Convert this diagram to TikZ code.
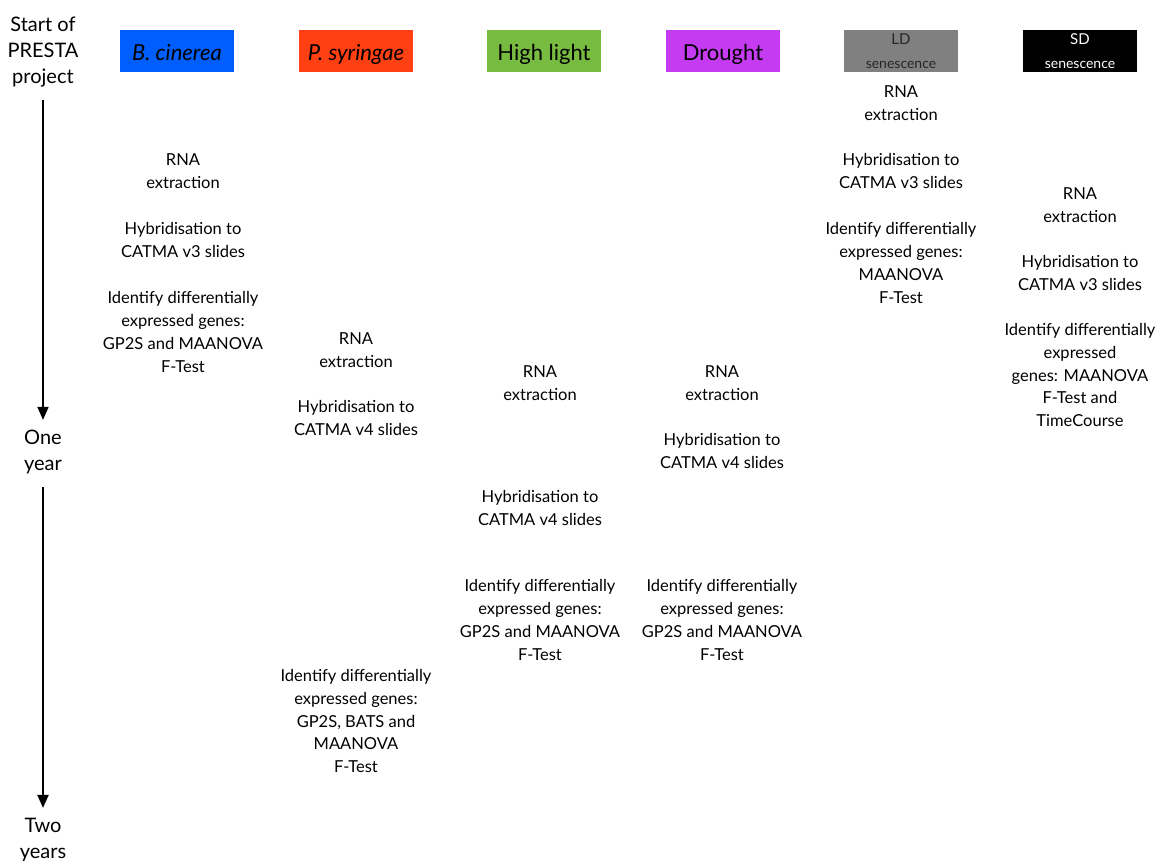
\documentclass[tikz,border=0pt]{standalone}
\usepackage{fontspec}
\setmainfont{Lato}
\usetikzlibrary{arrows.meta}

\definecolor{cinereablue}{RGB}{0,94,255}
\definecolor{syringaered}{RGB}{255,64,19}
\definecolor{lightgreen}{RGB}{119,187,65}
\definecolor{droughtpurple}{RGB}{197,59,242}
\definecolor{ldgrey}{RGB}{128,128,128}

\begin{document}
\begin{tikzpicture}[x=1pt,y=-1pt,
  cond/.style={minimum width=114pt, minimum height=42pt, inner sep=0pt, text height=20pt, text depth=1pt, font=\fontsize{22}{24}\selectfont},
  condtwo/.style={minimum width=114pt, minimum height=42pt, inner sep=0pt, align=center, font=\fontsize{15}{24}\selectfont},
  stage/.style={align=center, inner sep=0pt, font=\fontsize{16.5}{22.7}\selectfont},
  time/.style={align=center, inner sep=0pt, font=\fontsize{20}{26}\selectfont},
  timeline/.style={line width=2pt, shorten <=13pt, shorten >=10pt, -{Triangle[length=13pt,width=11pt]}}]
\useasboundingbox (0,0) rectangle (1159,861);

% time axis
\node[time] (start) at (43,52) {Start of\\PRESTA\\project};
\node[time] (oneyear) at (43,452) {One\\year};
\node[time] (twoyears) at (43,840) {Two\\years};
\draw[timeline] (start) -- (oneyear);
\draw[timeline] (oneyear) -- (twoyears);

% conditions
\node[cond, fill=cinereablue] (bcin) at (177,51) {\textit{B. cinerea}};
\node[cond, fill=syringaered] (psyr) at (356,51) {\textit{P. syringae}};
\node[cond, fill=lightgreen] (hl) at (544,51) {High light};
\node[cond, fill=droughtpurple] (dr) at (723,51) {Drought};
\node[condtwo, fill=ldgrey, text=black!85] (ld) at (901,51) {LD\\{\fontsize{14}{14}\selectfont senescence}};
\node[condtwo, fill=black, text=white] (sd) at (1080,51) {SD\\{\fontsize{14}{14}\selectfont senescence}};

% B. cinerea
\node[stage] (bcinrna) at (183,171) {RNA\\extraction};
\node[stage] (bcinhyb) at (183,240) {Hybridisation to\\CATMA v3 slides};
\node[stage] (bcinde) at (183,332) {Identify differentially\\expressed genes:\\GP2S and MAANOVA\\F-Test};

% P. syringae
\node[stage] (psyrrna) at (356,350) {RNA\\extraction};
\node[stage] (psyrhyb) at (356,418) {Hybridisation to\\CATMA v4 slides};
\node[stage] (psyrde) at (356,721) {Identify differentially\\expressed genes:\\GP2S, BATS and\\MAANOVA\\F-Test};

% High light
\node[stage] (hlrna) at (540,383) {RNA\\extraction};
\node[stage] (hlhyb) at (540,508) {Hybridisation to\\CATMA v4 slides};
\node[stage] (hlde) at (540,620) {Identify differentially\\expressed genes:\\GP2S and MAANOVA\\F-Test};

% Drought
\node[stage] (drrna) at (722,383) {RNA\\extraction};
\node[stage] (drhyb) at (722,451) {Hybridisation to\\CATMA v4 slides};
\node[stage] (drde) at (722,620) {Identify differentially\\expressed genes:\\GP2S and MAANOVA\\F-Test};

% LD senescence
\node[stage] (ldrna) at (901,103) {RNA\\extraction};
\node[stage] (ldhyb) at (901,171) {Hybridisation to\\CATMA v3 slides};
\node[stage] (ldde) at (901,263) {Identify differentially\\expressed genes:\\MAANOVA\\F-Test};

% SD senescence
\node[stage] (sdrna) at (1080,205) {RNA\\extraction};
\node[stage] (sdhyb) at (1080,273) {Hybridisation to\\CATMA v3 slides};
\node[stage] (sdde) at (1080,375) {Identify differentially\\expressed\\genes: MAANOVA\\F-Test and\\TimeCourse};
\end{tikzpicture}
\end{document}
